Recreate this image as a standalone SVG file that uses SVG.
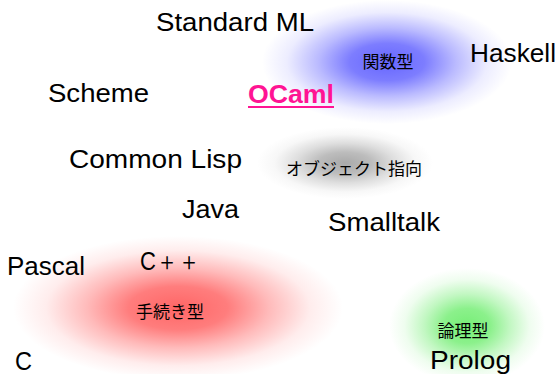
<svg xmlns="http://www.w3.org/2000/svg" width="560" height="374" viewBox="0 0 560 374">
<style>
.lang{font-family:"Liberation Sans","Noto Sans",sans-serif;font-size:25px;fill:#000;}
.cat{font-family:"Noto Sans CJK JP",sans-serif;font-size:17px;fill:#000;text-anchor:middle;}
.ocaml{font-family:"Liberation Sans",sans-serif;font-size:25px;font-weight:bold;fill:#ff1493;}
</style>
<defs>
<radialGradient id="gBlue"><stop offset="0" stop-color="#6666ff" stop-opacity="1"/><stop offset="0.3" stop-color="#6666ff" stop-opacity="0.85"/><stop offset="0.55" stop-color="#6666ff" stop-opacity="0.45"/><stop offset="0.8" stop-color="#6666ff" stop-opacity="0.12"/><stop offset="1" stop-color="#6666ff" stop-opacity="0"/></radialGradient>
<radialGradient id="gGray"><stop offset="0" stop-color="#a0a0a0" stop-opacity="0.9"/><stop offset="0.3" stop-color="#a0a0a0" stop-opacity="0.7"/><stop offset="0.55" stop-color="#a0a0a0" stop-opacity="0.35"/><stop offset="0.8" stop-color="#a0a0a0" stop-opacity="0.08"/><stop offset="1" stop-color="#a0a0a0" stop-opacity="0"/></radialGradient>
<radialGradient id="gRed"><stop offset="0" stop-color="#ff6666" stop-opacity="1"/><stop offset="0.3" stop-color="#ff6666" stop-opacity="0.85"/><stop offset="0.55" stop-color="#ff6666" stop-opacity="0.45"/><stop offset="0.8" stop-color="#ff6666" stop-opacity="0.12"/><stop offset="1" stop-color="#ff6666" stop-opacity="0"/></radialGradient>
<radialGradient id="gGreen"><stop offset="0" stop-color="#77ee77" stop-opacity="1"/><stop offset="0.3" stop-color="#77ee77" stop-opacity="0.85"/><stop offset="0.55" stop-color="#77ee77" stop-opacity="0.45"/><stop offset="0.8" stop-color="#77ee77" stop-opacity="0.12"/><stop offset="1" stop-color="#77ee77" stop-opacity="0"/></radialGradient>
</defs>
<rect width="560" height="374" fill="#fff"/>
<g id="functional">
<ellipse cx="387" cy="62" rx="125" ry="62" fill="url(#gBlue)"/>
<text class="cat" x="388" y="68">関数型</text>
</g>
<g id="oop">
<ellipse cx="345" cy="163" rx="88" ry="36" fill="url(#gGray)"/>
<text class="cat" x="354" y="175">オブジェクト指向</text>
</g>
<g id="procedural">
<ellipse cx="178" cy="308" rx="165" ry="72" fill="url(#gRed)"/>
<text class="cat" x="170" y="318">手続き型</text>
</g>
<g id="logic">
<ellipse cx="467" cy="326" rx="78" ry="58" fill="url(#gGreen)"/>
<text class="cat" x="463" y="337">論理型</text>
</g>
<g id="standard-ml"><text class="lang" x="156" y="31" textLength="158" lengthAdjust="spacingAndGlyphs">Standard ML</text></g>
<g id="haskell"><text class="lang" x="470" y="62" textLength="86" lengthAdjust="spacingAndGlyphs">Haskell</text></g>
<g id="ocaml"><text class="ocaml" x="248" y="103" textLength="86" lengthAdjust="spacingAndGlyphs">OCaml</text><rect x="248" y="106" width="86" height="2" fill="#ff1493"/></g>
<g id="scheme"><text class="lang" x="48" y="102" textLength="101" lengthAdjust="spacingAndGlyphs">Scheme</text></g>
<g id="common-lisp"><text class="lang" x="69" y="168" textLength="173" lengthAdjust="spacingAndGlyphs">Common Lisp</text></g>
<g id="java"><text class="lang" x="182" y="218" textLength="57" lengthAdjust="spacingAndGlyphs">Java</text></g>
<g id="smalltalk"><text class="lang" x="328" y="231" textLength="112" lengthAdjust="spacingAndGlyphs">Smalltalk</text></g>
<g id="pascal"><text class="lang" x="7" y="275" textLength="78" lengthAdjust="spacingAndGlyphs">Pascal</text></g>
<g id="cpp"><text class="lang" x="140" y="270" textLength="60" lengthAdjust="spacingAndGlyphs">C＋＋</text></g>
<g id="c"><text class="lang" x="15" y="370" textLength="17" lengthAdjust="spacingAndGlyphs">C</text></g>
<g id="prolog"><text class="lang" x="430" y="369" textLength="81" lengthAdjust="spacingAndGlyphs">Prolog</text></g>
</svg>
